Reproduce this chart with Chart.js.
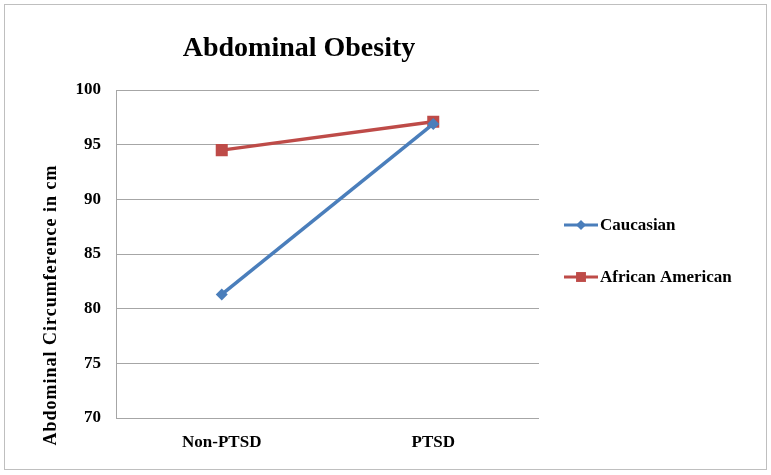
<!DOCTYPE html>
<html>
<head>
<meta charset="utf-8">
<script src="https://cdn.jsdelivr.net/npm/chart.js@4.4.1/dist/chart.umd.min.js"></script>
<style>
  html, body { margin: 0; padding: 0; background: #fff; }
  .wrap { position: relative; width: 771px; height: 475px; }
  .frame { position: absolute; left: 4px; top: 4px; width: 761px; height: 464px; border: 1px solid #bfbfbf; pointer-events: none; }
</style>
</head>
<body>
<div class="wrap">
  <canvas id="chart" width="771" height="475"></canvas>
  <div class="frame"></div>
</div>
<script>
const categories = ['Non-PTSD', 'PTSD'];
const caucasian = [81.3, 96.9];
const africanAmerican = [94.5, 97.1];
const seriesNames = ['Caucasian', 'African American'];

const SERIF = '"Liberation Serif", "Times New Roman", serif';

// title, rotated y title and the right-hand legend are drawn by hand
const extras = {
    id: 'extras',
    afterDraw(chart) {
        const ctx = chart.ctx;
        ctx.save();
        ctx.fillStyle = '#000';

        ctx.font = 'bold 28px ' + SERIF;
        ctx.textAlign = 'center';
        ctx.textBaseline = 'alphabetic';
        ctx.fillText('Abdominal Obesity', 299, 56);

        ctx.save();
        ctx.translate(56, 305);
        ctx.rotate(-Math.PI / 2);
        ctx.font = 'bold 18px ' + SERIF;
        ctx.letterSpacing = '1px';
        ctx.fillText('Abdominal Circumference in cm', 0, 0);
        ctx.restore();

        const rows = [225, 277];
        chart.data.datasets.forEach((ds, i) => {
            const y = rows[i];
            ctx.strokeStyle = ds.borderColor;
            ctx.lineWidth = 3;
            ctx.beginPath();
            ctx.moveTo(564, y);
            ctx.lineTo(598, y);
            ctx.stroke();
            ctx.fillStyle = ds.backgroundColor;
            Chart.helpers.drawPoint(ctx, {
                pointStyle: ds.pointStyle,
                radius: i === 0 ? 5 : 7,
                rotation: 0,
                borderWidth: 0
            }, 581, y);
            ctx.fillStyle = '#000';
            ctx.font = 'bold 17px ' + SERIF;
            ctx.textAlign = 'left';
            ctx.textBaseline = 'middle';
            ctx.fillText(ds.label, 600, y + 1);
        });
        ctx.restore();
    }
};

new Chart(document.getElementById('chart').getContext('2d'), {
    type: 'line',
    data: {
        labels: categories,
        datasets: [
            {
                label: seriesNames[0],
                data: caucasian,
                borderColor: '#4a7ebb',
                backgroundColor: '#4a7ebb',
                borderWidth: 3.5,
                pointStyle: 'rectRot',
                pointRadius: 6,
                pointBorderWidth: 0
            },
            {
                label: seriesNames[1],
                data: africanAmerican,
                borderColor: '#be4b48',
                backgroundColor: '#be4b48',
                borderWidth: 3.5,
                pointStyle: 'rect',
                pointRadius: 8.5,
                pointBorderWidth: 0
            }
        ]
    },
    options: {
        responsive: false,
        animation: false,
        layout: { padding: { left: 0, right: 232, top: 90, bottom: 0 } },
        plugins: {
            legend: { display: false },
            title: { display: false },
            tooltip: { enabled: false }
        },
        scales: {
            x: {
                offset: true,
                grid: { display: false, drawTicks: false },
                border: { display: false },
                ticks: {
                    color: '#000',
                    padding: 14,
                    font: { family: SERIF, size: 17, weight: 'bold' }
                },
                afterFit: (s) => { s.height = 57; }
            },
            y: {
                min: 70,
                max: 100,
                ticks: {
                    stepSize: 5,
                    color: '#000',
                    padding: 15,
                    font: { family: SERIF, size: 17, weight: 'bold' }
                },
                grid: { color: '#a6a6a6', lineWidth: 1, drawTicks: false },
                border: { color: '#a6a6a6', width: 1 },
                afterFit: (s) => { s.width = 116; }
            }
        }
    },
    plugins: [extras]
});
</script>
</body>
</html>
